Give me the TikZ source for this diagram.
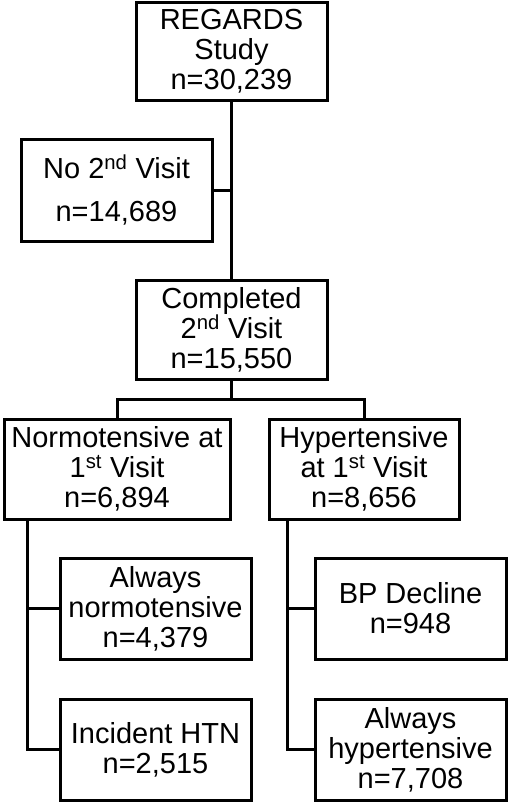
\documentclass[tikz,border=0pt]{standalone}
\usepackage{fontspec}
\setmainfont{Liberation Sans}
\begin{document}
\begin{tikzpicture}[x=1pt,y=-1pt,
  box/.style={draw,line width=3pt,inner sep=0pt,align=center,
    minimum width=191pt,minimum height=100pt,
    font=\fontsize{29}{30}\selectfont},
  conn/.style={line width=3pt}]
\useasboundingbox (0,0) rectangle (510,807);
\node[box,minimum height=98pt] (reg) at (231.5,51) {REGARDS\\Study\\n=30,239};
\node[box,minimum height=102pt,font=\fontsize{29}{43}\selectfont] (no2) at (116.5,190) {No 2\textsuperscript{nd} Visit\\n=14,689};
\node[box,minimum height=99pt] (comp) at (231.5,329.5) {Completed\\2\textsuperscript{nd} Visit\\n=15,550};
\node[box,minimum width=226pt] (normo) at (117,469) {Normotensive at\\1\textsuperscript{st} Visit\\n=6,894};
\node[box,minimum width=190pt] (hyper) at (364,469) {Hypertensive\\at 1\textsuperscript{st} Visit\\n=8,656};
\node[box,minimum height=101pt] (alwn) at (155.5,608.5) {Always\\normotensive\\n=4,379};
\node[box,minimum height=101pt] (inc) at (155.5,749.5) {Incident HTN\\n=2,515};
\node[box,minimum height=101pt] (bp) at (410.5,608.5) {BP Decline\\n=948};
\node[box,minimum height=101pt] (alwh) at (410.5,749.5) {Always\\hypertensive\\n=7,708};
\draw[conn] (reg.south) -- (comp.north);
\draw[conn] (no2.east) -- (no2.east -| reg.south);
\coordinate (split) at (231.5,399);
\draw[conn] (comp.south) -- (split);
\draw[conn] (normo.north) |- (split) -| (hyper.north);
\coordinate (lt) at (27,519);
\coordinate (rt) at (287,519);
\draw[conn] (lt) |- (inc.west);
\draw[conn] (lt |- alwn.west) -- (alwn.west);
\draw[conn] (rt) |- (alwh.west);
\draw[conn] (rt |- bp.west) -- (bp.west);
\end{tikzpicture}
\end{document}
